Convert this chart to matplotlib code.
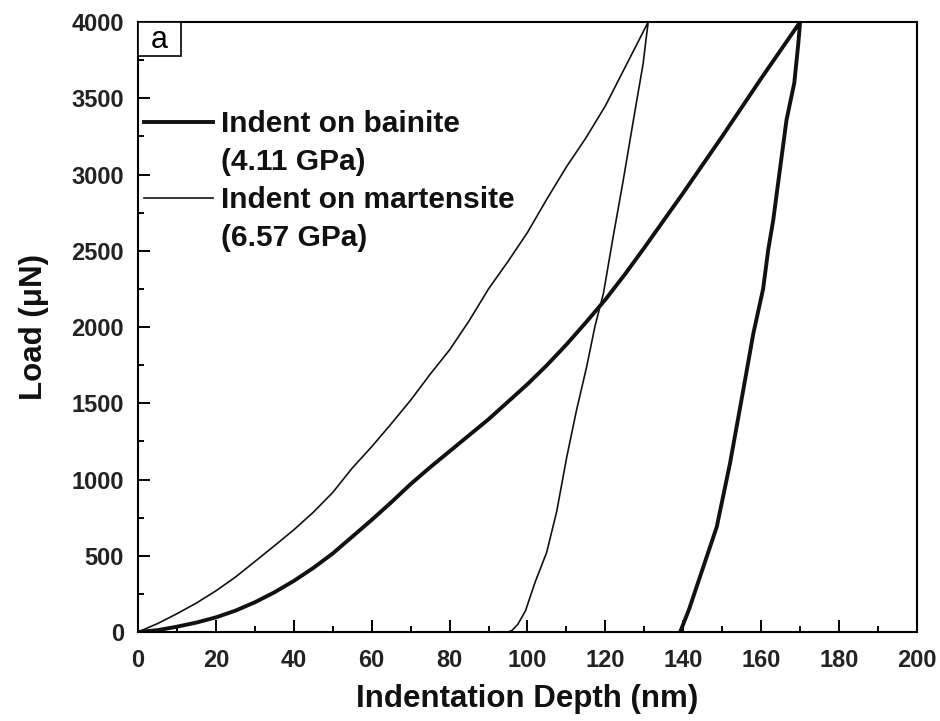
import matplotlib
matplotlib.use('Agg')
import matplotlib.pyplot as plt
from matplotlib.lines import Line2D
from matplotlib.patches import Rectangle
from matplotlib.ticker import MultipleLocator

plt.rcParams['font.family'] = ['Liberation Sans', 'DejaVu Sans']

# bainite: loading then unloading (depth nm, load uN)
bain_load_x = [0, 5, 10, 15, 20, 25, 30, 35, 40, 45, 50, 55, 60, 65, 70, 75, 80, 85,
               90, 95, 100, 105, 110, 115, 120, 125, 130, 135, 140, 145, 150, 155, 160, 165, 170]
bain_load_y = [0, 12, 35, 62, 96, 140, 195, 260, 335, 420, 515, 625, 735, 850, 970, 1080, 1185, 1290,
               1395, 1510, 1625, 1750, 1885, 2030, 2180, 2345, 2520, 2700, 2880, 3065, 3250, 3440, 3630, 3815, 4000]
bain_unload_x = [170, 169.5, 168.5, 166.5, 164.8, 163.1, 161.8, 160.5, 158, 155.4, 152, 148.6, 144.3, 141.5, 139.2]
bain_unload_y = [4000, 3850, 3600, 3357, 3030, 2702, 2505, 2250, 1959, 1587, 1106, 690, 363, 150, 0]

# martensite
mart_load_x = [0, 5, 10, 15, 20, 25, 30, 35, 40, 45, 50, 55, 60, 65, 70, 75, 80, 85,
               90, 95, 100, 105, 110, 115, 120, 125, 130, 131]
mart_load_y = [0, 55, 120, 190, 270, 360, 462, 565, 670, 785, 915, 1075, 1215, 1365, 1520, 1690, 1850, 2040,
               2250, 2430, 2620, 2840, 3050, 3240, 3450, 3700, 3950, 4000]
mart_unload_x = [131, 130.5, 129.7, 127.2, 124.6, 122, 119.5, 117.3, 115.2, 112.6, 110.1, 107.5,
                 104.9, 102, 99.5, 97.5, 96, 95, 93]
mart_unload_y = [4000, 3900, 3728, 3357, 2964, 2592, 2221, 2002, 1740, 1456, 1150, 790,
                 520, 330, 140, 50, 10, 0, 0]

labels = ['Indent on bainite', '(4.11 GPa)', 'Indent on martensite', '(6.57 GPa)']

fig = plt.figure(figsize=(9.4, 7.21), dpi=100)
ax = fig.add_axes([0.1468, 0.1234, 0.8287, 0.8461])

ax.plot(bain_load_x + bain_unload_x, bain_load_y + bain_unload_y, color='#111111', lw=2.8)
ax.plot(mart_load_x + mart_unload_x, mart_load_y + mart_unload_y, color='#111111', lw=1.2)

ax.set_xlim(0, 200)
ax.set_ylim(0, 4000)
ax.xaxis.set_major_locator(MultipleLocator(20))
ax.xaxis.set_minor_locator(MultipleLocator(10))
ax.yaxis.set_major_locator(MultipleLocator(500))
ax.yaxis.set_minor_locator(MultipleLocator(250))
ax.tick_params(which='both', direction='in', top=False, right=False, width=1.4)
ax.tick_params(which='major', length=8.5)
ax.tick_params(which='minor', length=4.5)
ax.tick_params(axis='x', pad=12)
ax.tick_params(axis='y', pad=10)
for t in ax.get_xticklabels() + ax.get_yticklabels():
    t.set_fontsize(17)
    t.set_fontweight('bold')
    t.set_color('#222222')
for s in ax.spines.values():
    s.set_linewidth(1.5)

ax.set_xlabel('Indentation Depth (nm)', fontsize=22.5, fontweight='bold', labelpad=9, color='#111111')
ax.set_ylabel('Load (μN)', fontsize=22.5, fontweight='bold', labelpad=16, color='#111111')

# legend
handles = [Line2D([], [], color='#111111', lw=2.8), Line2D([], [], color='none'),
           Line2D([], [], color='#111111', lw=1.2), Line2D([], [], color='none')]
leg = ax.legend(handles, labels, loc='upper left', bbox_to_anchor=(0.0, 0.865),
                frameon=False, prop={'size': 21.5, 'weight': 'bold'},
                handlelength=2.3, handletextpad=0.27, labelspacing=0.33,
                borderpad=0, borderaxespad=0.2)
for t in leg.get_texts():
    t.set_color('#111111')

# panel tag
ax.add_patch(Rectangle((0, 1 - 0.0557), 0.0552, 0.0557, transform=ax.transAxes,
                       fc='white', ec='black', lw=1.2, zorder=5))
ax.text(0.0276, 1 - 0.030, 'a', transform=ax.transAxes, ha='center', va='center',
        fontsize=22, zorder=6)

fig.savefig('out.png', dpi=100)
